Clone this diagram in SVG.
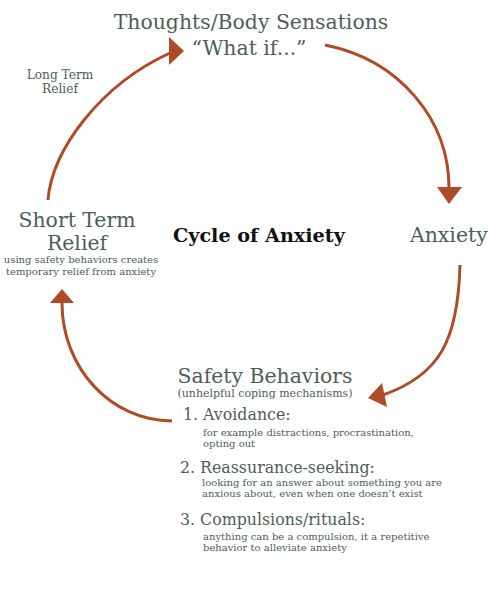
<svg xmlns="http://www.w3.org/2000/svg" width="500" height="613" viewBox="0 0 500 613">
<style>
text{font-family:"DejaVu Serif","Liberation Serif",serif;fill:#4c5e58}
.big{font-size:20.4px}
.mid{font-size:15.8px}
.sm{font-size:10px}
.lbl{font-size:12.2px}
.sub{font-size:11px}
.c{text-anchor:middle}
.title{font-size:19.2px;font-weight:bold;fill:#111}
.arr{fill:none;stroke:#b04b27;stroke-width:3}
.head{fill:#b04b27}
</style>
<rect width="500" height="613" fill="#fff"/>
<g id="connectors">
<path class="arr" d="M48,200 C52,150 100,85 170,53"/>
<polygon class="head" points="184,51 169,37 169,65"/>
<path class="arr" d="M325,45 C400,60 449,120 449,188"/>
<polygon class="head" points="437,187 462,187 449,204"/>
<path class="arr" d="M460,265 C458,340 440,375 383,395"/>
<polygon class="head" points="368,398 382,383 387,407"/>
<path class="arr" d="M172,421 C111,421 62,368 62,303"/>
<polygon class="head" points="50,303 74,303 62,289"/>
</g>
<g id="thoughts">
<text class="big c" x="251" y="29">Thoughts/Body Sensations</text>
<text class="big c" x="249" y="55">“What if...”</text>
</g>
<g id="long-term">
<text class="lbl c" x="60" y="79">Long Term</text>
<text class="lbl c" x="60" y="93">Relief</text>
</g>
<g id="short-term">
<text class="big c" x="77" y="227">Short Term</text>
<text class="big c" x="77" y="250">Relief</text>
<text class="sm c" x="81" y="263">using safety behaviors creates</text>
<text class="sm c" x="81" y="275">temporary relief from anxiety</text>
</g>
<g id="center">
<text class="title" x="173" y="242">Cycle of Anxiety</text>
</g>
<g id="anxiety">
<text class="big" x="410" y="242">Anxiety</text>
</g>
<g id="safety">
<text class="big c" x="265" y="383">Safety Behaviors</text>
<text class="sub c" x="265" y="397">(unhelpful coping mechanisms)</text>
<text class="mid" x="183" y="420">1. Avoidance:</text>
<text class="sm" x="203" y="436">for example distractions, procrastination,</text>
<text class="sm" x="203" y="447">opting out</text>
<text class="mid" x="180" y="473">2. Reassurance-seeking:</text>
<text class="sm" x="202" y="486">looking for an answer about something you are</text>
<text class="sm" x="202" y="497">anxious about, even when one doesn’t exist</text>
<text class="mid" x="180" y="525">3. Compulsions/rituals:</text>
<text class="sm" x="203" y="540">anything can be a compulsion, it a repetitive</text>
<text class="sm" x="203" y="551">behavior to alleviate anxiety</text>
</g>
</svg>
